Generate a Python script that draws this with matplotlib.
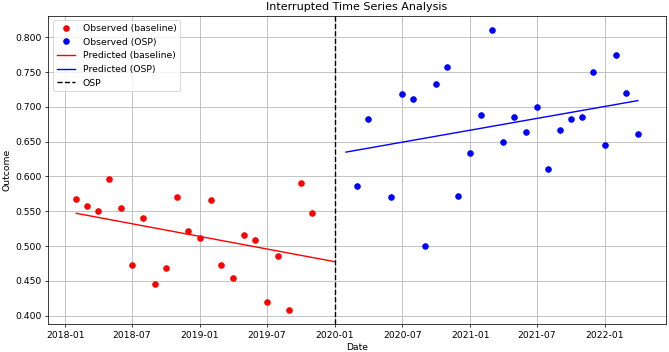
import matplotlib
matplotlib.use('Agg')
import matplotlib.pyplot as plt
import matplotlib.ticker as mticker
import pandas as pd

# observed values, one per month (month-end dates)
base_months = ['2018-01', '2018-02', '2018-03', '2018-04', '2018-05', '2018-06',
               '2018-07', '2018-08', '2018-09', '2018-10', '2018-11', '2018-12',
               '2019-01', '2019-02', '2019-03', '2019-04', '2019-05', '2019-06',
               '2019-07', '2019-08', '2019-09', '2019-10']
base_values = [0.568, 0.557, 0.551, 0.596, 0.555, 0.472,
               0.540, 0.445, 0.468, 0.570, 0.521, 0.512,
               0.566, 0.472, 0.454, 0.516, 0.509, 0.420,
               0.486, 0.408, 0.591, 0.548]

osp_months = ['2020-02', '2020-03', '2020-05', '2020-06', '2020-07', '2020-08',
              '2020-09', '2020-10', '2020-11', '2020-12', '2021-01', '2021-02',
              '2021-03', '2021-04', '2021-05', '2021-06', '2021-07', '2021-08',
              '2021-09', '2021-10', '2021-11', '2021-12', '2022-01', '2022-02',
              '2022-03']
osp_values = [0.586, 0.683, 0.570, 0.718, 0.711, 0.500,
              0.733, 0.758, 0.572, 0.634, 0.689, 0.811,
              0.649, 0.686, 0.664, 0.700, 0.611, 0.667,
              0.683, 0.685, 0.750, 0.645, 0.774, 0.720,
              0.661]

# fitted trend lines (start / end)
pred_base_months = ['2018-01', '2019-12']
pred_base_values = [0.547, 0.4775]
pred_osp_months = ['2020-01', '2022-03']
pred_osp_values = [0.635, 0.709]

intervention = '2020-01-01'


def month_end(months):
    return pd.to_datetime(months) + pd.offsets.MonthEnd(0)


fig, ax = plt.subplots(figsize=(10, 5.262), dpi=66.9)
fig.subplots_adjust(left=0.072, right=0.9955, top=0.9555, bottom=0.0795)

ax.plot(month_end(base_months), base_values, 'o', color='red', label='Observed (baseline)')
ax.plot(month_end(osp_months), osp_values, 'o', color='blue', label='Observed (OSP)')
ax.plot(month_end(pred_base_months), pred_base_values, color='red', label='Predicted (baseline)')
ax.plot(month_end(pred_osp_months), pred_osp_values, color='blue', label='Predicted (OSP)')
ax.axvline(pd.Timestamp(intervention), color='black', linestyle='--', label='OSP')

ax.yaxis.set_major_formatter(mticker.FormatStrFormatter('%.3f'))
ax.set_xlabel('Date')
ax.set_ylabel('Outcome')
ax.set_title('Interrupted Time Series Analysis')
ax.legend(loc='upper left')
ax.grid(True)

fig.savefig('out.png')
